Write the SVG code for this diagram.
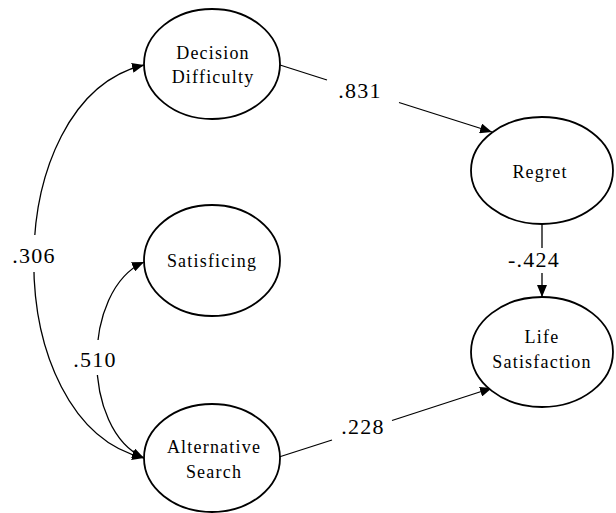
<svg xmlns="http://www.w3.org/2000/svg" width="616" height="513" viewBox="0 0 616 513">
<defs>
<marker id="arr" viewBox="0 0 12 10" refX="12" refY="5" markerWidth="12" markerHeight="10" markerUnits="userSpaceOnUse" orient="auto-start-reverse">
<path d="M0,0 L12,5 L0,10 Z" fill="#000"/>
</marker>
<mask id="gaps" maskUnits="userSpaceOnUse" x="0" y="0" width="616" height="513">
<rect x="0" y="0" width="616" height="513" fill="#fff"/>
<rect x="15" y="235" width="40" height="37" fill="#000"/>
<rect x="80" y="340" width="35" height="35" fill="#000"/>
</mask>
</defs>
<rect width="616" height="513" fill="#fff"/>
<g id="connectors" fill="none" stroke="#000" stroke-width="1.3">
<path d="M144,65 C -3,100 -3,423 144,458" mask="url(#gaps)" marker-start="url(#arr)" marker-end="url(#arr)"/>
<path d="M144,262 C 81,290 81,430 144,458" mask="url(#gaps)" marker-start="url(#arr)" marker-end="url(#arr)"/>
<line x1="280" y1="65" x2="327" y2="80"/>
<line x1="399" y1="102.5" x2="492" y2="132" marker-end="url(#arr)"/>
<line x1="279" y1="457" x2="332" y2="440"/>
<line x1="392" y1="420.5" x2="492" y2="388" marker-end="url(#arr)"/>
<line x1="542" y1="224" x2="542" y2="248"/>
<line x1="542" y1="273" x2="542" y2="297" marker-end="url(#arr)"/>
</g>
<g id="labels" font-family="Liberation Serif" font-size="22" text-anchor="middle" fill="#000" stroke="none">
<text x="34" y="263" letter-spacing="1.2">.306</text>
<text x="95" y="367" letter-spacing="1.2">.510</text>
<text x="360" y="98" letter-spacing="1.2">.831</text>
<text x="363" y="434" letter-spacing="1.2">.228</text>
<text x="534" y="267" letter-spacing="1.2">-.424</text>
</g>
<g id="decision-difficulty">
<ellipse cx="212" cy="64" rx="68" ry="55" fill="#fff" stroke="#000" stroke-width="1.8"/>
<text font-family="Liberation Serif" font-size="18" text-anchor="middle" letter-spacing="1.2" x="213" y="59">Decision</text>
<text font-family="Liberation Serif" font-size="18" text-anchor="middle" letter-spacing="1.2" x="213" y="83">Difficulty</text>
</g>
<g id="satisficing">
<ellipse cx="212" cy="260.5" rx="68" ry="55.5" fill="#fff" stroke="#000" stroke-width="1.8"/>
<text font-family="Liberation Serif" font-size="18" text-anchor="middle" letter-spacing="1.2" x="212" y="267">Satisficing</text>
</g>
<g id="alternative-search">
<ellipse cx="212" cy="458" rx="68" ry="54" fill="#fff" stroke="#000" stroke-width="1.8"/>
<text font-family="Liberation Serif" font-size="18" text-anchor="middle" letter-spacing="1.2" x="214" y="453">Alternative</text>
<text font-family="Liberation Serif" font-size="18" text-anchor="middle" letter-spacing="1.2" x="214" y="478">Search</text>
</g>
<g id="regret">
<ellipse cx="542" cy="170.5" rx="71" ry="53.5" fill="#fff" stroke="#000" stroke-width="1.8"/>
<text font-family="Liberation Serif" font-size="18" text-anchor="middle" letter-spacing="1.2" x="540" y="178">Regret</text>
</g>
<g id="life-satisfaction">
<ellipse cx="542" cy="352" rx="71" ry="55" fill="#fff" stroke="#000" stroke-width="1.8"/>
<text font-family="Liberation Serif" font-size="18" text-anchor="middle" letter-spacing="1.2" x="542" y="343">Life</text>
<text font-family="Liberation Serif" font-size="18" text-anchor="middle" letter-spacing="1.2" x="542" y="368">Satisfaction</text>
</g>
</svg>
